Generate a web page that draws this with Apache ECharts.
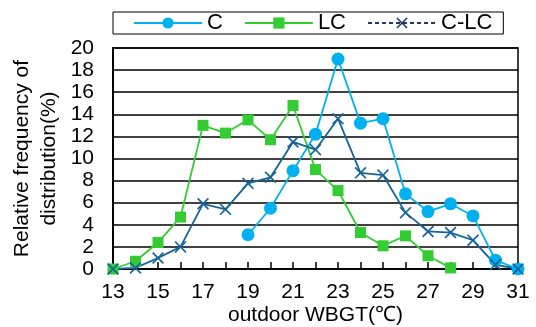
<!DOCTYPE html>
<html lang="en">
<head>
<meta charset="UTF-8">
<title></title>
<script src="https://cdn.jsdelivr.net/npm/echarts@6/dist/echarts.min.js"></script>
<style>
  body { margin: 0; background: #fff; }
  #chart { width: 536px; height: 327px; }
</style>
</head>
<body>
<div id="chart"></div>
<script>
// WBGT values (x axis)
var wbgtC = [19, 20, 21, 22, 23, 24, 25, 26, 27, 28, 29, 30, 31];
var valC = [3.1, 5.5, 8.9, 12.2, 19.0, 13.2, 13.6, 6.8, 5.2, 5.9, 4.8, 0.8, 0];
var wbgtLC = [13, 14, 15, 16, 17, 18, 19, 20, 21, 22, 23, 24, 25, 26, 27, 28];
var valLC = [0, 0.7, 2.4, 4.7, 13.0, 12.3, 13.5, 11.7, 14.8, 9.0, 7.1, 3.3, 2.1, 3.0, 1.2, 0.1];
var wbgtCLC = [13, 14, 15, 16, 17, 18, 19, 20, 21, 22, 23, 24, 25, 26, 27, 28, 29, 30, 31];
var valCLC = [0, 0.1, 1.0, 2.0, 5.9, 5.4, 7.75, 8.3, 11.5, 10.8, 13.6, 8.7, 8.5, 5.1, 3.4, 3.3, 2.6, 0.4, 0];

function pairs(xs, ys) {
  return xs.map(function (x, i) { return [x, ys[i]]; });
}

var crossPath = 'path://M0,1L1,0L5,4L9,0L10,1L6,5L10,9L9,10L5,6L1,10L0,9L4,5Z';
var font = 'Liberation Sans';

var chart = echarts.init(document.getElementById('chart'));
chart.setOption({
  animation: false,
  textStyle: { fontFamily: font },
  grid: {
    left: 113, right: 18, top: 48, bottom: 58,
    outerBoundsMode: 'none',
    show: true, borderColor: '#000', borderWidth: 1.5
  },
  legend: {
    left: 113, top: 12,
    itemWidth: 68, itemHeight: 14, itemGap: 21,
    padding: [0, 11, 0, 20],
    borderColor: '#000', borderWidth: 1,
    textStyle: { fontSize: 22, color: '#000', fontFamily: font, lineHeight: 22 },
    data: [
      { name: 'C' },
      { name: 'LC' },
      { name: 'C-LC', lineStyle: { type: [4, 3], color: '#1f3864' }, itemStyle: { color: '#1f3864' } }
    ]
  },
  xAxis: {
    type: 'value', min: 13, max: 31, interval: 1,
    name: 'outdoor WBGT(\u2103)', nameLocation: 'middle', nameGap: 36,
    nameMoveOverlap: false,
    nameTextStyle: { fontSize: 21, color: '#000', fontFamily: font },
    axisLine: { lineStyle: { color: '#000', width: 2 } },
    axisTick: { show: true, inside: true, length: 7, lineStyle: { color: '#000', width: 1.5 } },
    axisLabel: {
      fontSize: 21, color: '#000', margin: 13,
      formatter: function (v) { return v % 2 === 1 ? String(v) : ''; }
    },
    splitLine: { show: false }
  },
  yAxis: {
    type: 'value', min: 0, max: 20, interval: 2,
    name: 'Relative frequency of\ndistribution(%)', nameLocation: 'middle', nameGap: 50,
    nameMoveOverlap: false,
    nameTextStyle: { fontSize: 21, color: '#000', fontFamily: font, lineHeight: 27 },
    axisLine: { show: true, lineStyle: { color: '#000', width: 2 } },
    axisTick: { show: false },
    axisLabel: { fontSize: 21, color: '#000', margin: 19, lineHeight: 17 },
    splitLine: { lineStyle: { color: '#000', width: 1.5 } }
  },
  series: [
    {
      name: 'C', type: 'line', data: pairs(wbgtC, valC),
      symbol: 'circle', symbolSize: 13,
      lineStyle: { color: '#00b0f0', width: 1.8 },
      itemStyle: { color: '#00b0f0' }
    },
    {
      name: 'LC', type: 'line', data: pairs(wbgtLC, valLC),
      symbol: 'rect', symbolSize: 11,
      lineStyle: { color: '#33cc33', width: 1.8 },
      itemStyle: { color: '#33cc33' }
    },
    {
      name: 'C-LC', type: 'line', data: pairs(wbgtCLC, valCLC),
      symbol: crossPath, symbolSize: 12,
      lineStyle: { color: '#14649a', width: 1.8 },
      itemStyle: { color: '#14649a' }
    }
  ]
});
</script>
</body>
</html>
